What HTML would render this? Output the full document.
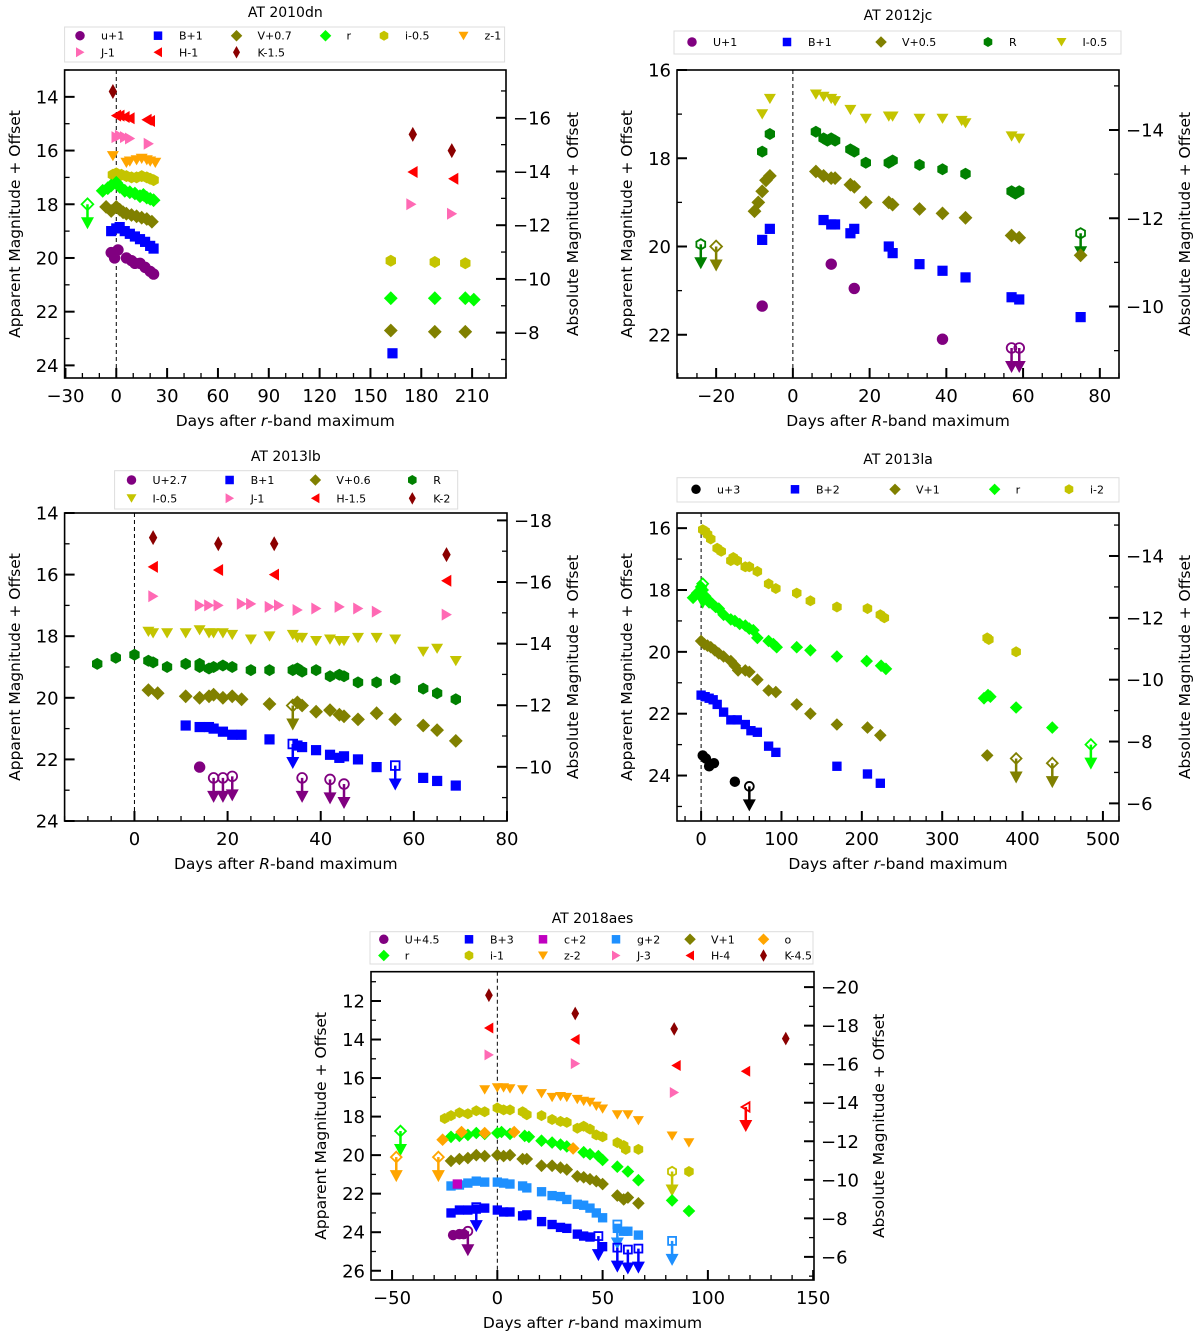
<!DOCTYPE html>
<html><head><meta charset="utf-8">
<style>
html,body{margin:0;padding:0;background:#fff;}
svg{display:block;font-family:"DejaVu Sans","Liberation Sans",sans-serif;}
</style></head>
<body>
<svg id="fig" width="1200" height="1342" viewBox="0 0 1200 1342" xmlns="http://www.w3.org/2000/svg"></svg>
<script>
// ---------- AT 2010dn ----------
const dn_u=[[-3,19.8],[-1,20.0],[1,19.7],[6,20.0],[9,20.1],[11,20.2],[14,20.2],[17,20.35],[20,20.5],[22,20.6]];
const dn_B=[[-3,19.0],[0,18.9],[2,18.85],[5,19.0],[8,19.1],[11,19.2],[14,19.3],[17,19.4],[20,19.55],[22,19.65],[163,23.55]];
const dn_V=[[-6,18.1],[-3,18.25],[0,18.1],[2,18.2],[4,18.3],[6,18.35],[9,18.4],[12,18.45],[15,18.5],[18,18.55],[21,18.65],[162,22.7],[188,22.75],[206,22.75]];
const dn_r=[[-8,17.5],[-5,17.4],[-3,17.3],[0,17.2],[2,17.35],[5,17.5],[8,17.55],[11,17.6],[14,17.7],[16,17.65],[18,17.75],[20,17.8],[22,17.85],[162,21.5],[188,21.5],[206,21.5],[211,21.55]];
const dn_r_lim=[[-17,18.0]];
const dn_i=[[-2,16.9],[0,16.85],[3,16.9],[6,16.95],[9,17.0],[12,17.0],[15,16.95],[18,17.0],[20,17.05],[22,17.1],[162,20.1],[188,20.15],[206,20.2]];
const dn_z=[[-2,16.2],[6,16.45],[8,16.4],[12,16.35],[15,16.3],[18,16.35],[20,16.4],[23,16.45]];
const dn_J=[[0,15.5],[2,15.45],[5,15.5],[8,15.55],[19,15.75],[174,18.0],[198,18.35]];
const dn_H=[[0,14.7],[2,14.7],[5,14.75],[8,14.8],[18,14.85],[20,14.9],[175,16.8],[199,17.05]];
const dn_K=[[-2,13.8],[175,15.4],[198,16.0]];
// ---------- AT 2012jc ----------
const jc_U=[[-8,21.35],[10,20.4],[16,20.95],[39,22.1]];
const jc_U_lim=[[57,22.3],[59,22.3]];
const jc_B=[[-8,19.85],[-6,19.6],[8,19.4],[10,19.5],[11,19.5],[15,19.7],[16,19.6],[25,20.0],[26,20.15],[33,20.4],[39,20.55],[45,20.7],[57,21.15],[59,21.2],[75,21.6]];
const jc_V=[[-10,19.2],[-9,19.0],[-8,18.75],[-7,18.5],[-6,18.4],[6,18.3],[8,18.4],[10,18.45],[11,18.45],[15,18.6],[16,18.65],[19,19.0],[25,19.0],[26,19.05],[33,19.15],[39,19.25],[45,19.35],[57,19.75],[59,19.8],[75,20.2]];
const jc_V_lim=[[-20,20.0]];
const jc_R=[[-8,17.85],[-6,17.45],[6,17.4],[8,17.55],[9,17.6],[10,17.55],[11,17.6],[15,17.8],[16,17.85],[19,18.1],[25,18.1],[26,18.05],[33,18.15],[39,18.25],[45,18.35],[57,18.75],[58,18.8],[59,18.75]];
const jc_R_lim=[[-24,19.95],[75,19.7]];
const jc_I=[[-8,17.0],[-6,16.65],[6,16.55],[8,16.6],[10,16.65],[11,16.7],[15,16.9],[19,17.1],[25,17.05],[26,17.05],[33,17.1],[39,17.1],[44,17.15],[45,17.2],[57,17.5],[59,17.55]];
// ---------- AT 2013lb ----------
const lb_U=[[14,22.25]];
const lb_U_lim=[[17,22.6],[19,22.6],[21,22.55],[36,22.6],[42,22.65],[45,22.8]];
const lb_B=[[11,20.9],[14,20.95],[16,20.95],[17,21.0],[19,21.1],[21,21.2],[23,21.2],[29,21.35],[35,21.55],[36,21.6],[39,21.7],[42,21.85],[44,21.95],[45,21.9],[48,22.0],[52,22.25],[62,22.6],[65,22.7],[69,22.85]];
const lb_B_lim=[[34,21.5],[56,22.2]];
const lb_V=[[3,19.75],[5,19.85],[11,19.95],[14,20.0],[16,19.95],[17,19.9],[19,20.0],[21,19.95],[23,20.05],[29,20.2],[35,20.15],[36,20.25],[39,20.45],[42,20.4],[44,20.55],[45,20.6],[48,20.7],[52,20.5],[56,20.7],[62,20.9],[65,21.05],[69,21.4]];
const lb_V_lim=[[34,20.25]];
const lb_R=[[-8,18.9],[-4,18.7],[0,18.6],[3,18.8],[4,18.85],[7,19.0],[11,18.9],[14,18.9],[14,19.0],[16,19.05],[17,19.0],[19,18.95],[21,19.0],[25,19.1],[29,19.1],[34,19.1],[35,19.05],[36,19.15],[39,19.1],[42,19.3],[44,19.25],[45,19.3],[48,19.5],[52,19.5],[56,19.4],[62,19.7],[65,19.85],[69,20.05]];
const lb_I=[[3,17.85],[4,17.9],[7,17.9],[11,17.9],[14,17.8],[16,17.9],[17,17.9],[19,17.9],[21,17.95],[25,18.1],[29,18.0],[34,17.95],[35,18.05],[36,18.05],[39,18.15],[42,18.1],[44,18.15],[45,18.15],[48,18.05],[52,18.05],[56,18.1],[62,18.5],[65,18.4],[69,18.8]];
const lb_J=[[4,16.7],[14,17.0],[16,17.0],[18,17.0],[23,16.95],[25,16.95],[29,17.05],[31,17.0],[35,17.15],[39,17.1],[44,17.05],[48,17.1],[52,17.2],[67,17.3]];
const lb_H=[[4,15.75],[18,15.85],[30,16.0],[67,16.2]];
const lb_K=[[4,14.8],[18,15.0],[30,15.0],[67,15.35]];
// ---------- AT 2013la ----------
const la_u=[[2,23.35],[6,23.45],[10,23.7],[16,23.6],[42,24.2]];
const la_u_lim=[[60,24.35]];
const la_B=[[0,21.4],[5,21.45],[10,21.5],[15,21.55],[20,21.7],[28,21.95],[37,22.2],[45,22.2],[55,22.35],[62,22.55],[70,22.6],[84,23.05],[93,23.25],[169,23.7],[207,23.95],[223,24.25]];
const la_V=[[0,19.65],[4,19.75],[8,19.8],[12,19.85],[17,19.95],[22,20.05],[28,20.15],[37,20.3],[42,20.45],[46,20.6],[55,20.6],[60,20.65],[70,20.9],[84,21.25],[93,21.3],[119,21.7],[136,22.0],[169,22.35],[207,22.45],[223,22.7],[356,23.35]];
const la_V_lim=[[392,23.45],[437,23.6]];
const la_r=[[-10,18.25],[-5,18.1],[0,17.9],[2,18.0],[5,18.2],[8,18.3],[10,18.4],[14,18.45],[18,18.55],[22,18.6],[28,18.8],[37,18.95],[42,19.0],[48,19.1],[55,19.15],[60,19.25],[65,19.3],[70,19.55],[84,19.65],[90,19.75],[94,19.85],[119,19.85],[136,19.95],[169,20.15],[206,20.3],[224,20.45],[230,20.55],[352,21.5],[357,21.4],[360,21.45],[392,21.8],[437,22.45]];
const la_r_lim=[[2,17.8],[485,23.0]];
const la_i=[[2,16.05],[5,16.1],[8,16.2],[12,16.35],[20,16.65],[25,16.75],[37,17.05],[40,16.95],[45,17.05],[55,17.25],[60,17.25],[70,17.4],[84,17.8],[93,17.95],[119,18.1],[136,18.35],[169,18.55],[207,18.6],[223,18.8],[228,18.9],[356,19.55],[358,19.6],[392,20.0]];
// ---------- AT 2018aes ----------
const es_U=[[-21,24.15],[-18,24.1],[-16,24.1]];
const es_U_lim=[[-14,23.95]];
const es_B=[[-22,23.0],[-18,22.85],[-14,22.85],[-10,22.8],[-6,22.75],[0,22.85],[3,22.95],[6,22.95],[12,23.15],[14,23.1],[21,23.45],[26,23.6],[30,23.75],[33,23.8],[38,24.1],[41,24.2],[44,24.25],[50,24.75]];
const es_B_lim=[[-10,22.7],[48,24.2],[57,24.8],[62,24.9],[67,24.85]];
const es_c=[[-19,21.5]];
const es_g=[[-22,21.6],[-18,21.55],[-14,21.45],[-10,21.35],[-6,21.4],[0,21.4],[3,21.45],[6,21.5],[12,21.6],[14,21.7],[21,21.9],[26,22.1],[30,22.15],[33,22.3],[38,22.55],[41,22.6],[44,22.75],[47,23.0],[50,23.25],[57,23.8],[60,23.95],[62,23.95],[67,24.15]];
const es_g_lim=[[57,23.6],[83,24.45]];
const es_V=[[-22,20.3],[-18,20.2],[-14,20.15],[-10,20.0],[-6,20.05],[0,20.0],[3,20.05],[6,20.0],[12,20.2],[14,20.2],[21,20.55],[26,20.55],[30,20.65],[33,20.75],[38,21.1],[41,21.15],[44,21.25],[47,21.35],[50,21.5],[57,22.1],[60,22.3],[62,22.2],[67,22.5]];
const es_o=[[-26,19.2],[-17,18.8],[-6,18.85],[8,18.8],[36,19.65]];
const es_o_lim=[[-48,20.1],[-28,20.1]];
const es_r=[[-22,19.05],[-18,19.0],[-14,18.95],[-10,18.85],[-6,18.9],[0,18.85],[2,18.8],[6,18.9],[13,19.0],[15,19.05],[21,19.25],[26,19.35],[30,19.45],[33,19.55],[41,19.85],[44,19.95],[48,20.05],[50,20.25],[57,20.6],[62,20.85],[67,21.3],[83,22.35],[91,22.9]];
const es_r_lim=[[-46,18.75]];
const es_i=[[-25,18.1],[-22,17.95],[-18,17.8],[-14,17.85],[-10,17.7],[-6,17.75],[0,17.55],[3,17.65],[6,17.65],[12,17.75],[14,17.9],[21,17.95],[26,18.15],[30,18.25],[33,18.3],[38,18.6],[41,18.5],[44,18.65],[47,18.95],[50,19.05],[57,19.35],[60,19.5],[61,19.7],[67,19.7],[91,20.85]];
const es_i_lim=[[83,20.85]];
const es_z=[[-6,16.6],[0,16.5],[3,16.5],[6,16.55],[12,16.6],[21,16.8],[26,17.0],[30,16.95],[33,17.0],[38,17.1],[41,17.2],[44,17.25],[47,17.45],[50,17.6],[57,17.9],[62,17.9],[67,18.2],[83,19.0],[91,19.35]];
const es_J=[[-4,14.8],[37,15.25],[84,16.75]];
const es_H=[[-4,13.4],[37,14.0],[85,15.35],[118,15.65]];
const es_H_lim=[[118,17.5]];
const es_K=[[-4,11.7],[37,12.65],[84,13.45],[137,13.95]];

const C={u:'#800080',B:'#0000ff',V:'#808000',r:'#00ff00',i:'#c4c400',z:'#ffa500',J:'#ff69b4',H:'#ff0000',K:'#8b0000',R:'#008000',c:'#c000c0',g:'#1e90ff',o:'#ffa500',k:'#000000'};
const NS='http://www.w3.org/2000/svg';
const svg=document.getElementById('fig');
function mk(tag,attrs,parent){const e=document.createElementNS(NS,tag);for(const k in attrs)e.setAttribute(k,attrs[k]);(parent||svg).appendChild(e);return e;}
function marker(g,shape,cx,cy,s,col,open){
  let e;const fill=open?'none':col;const sw=open?1.8:0;
  const h=s/2;
  if(shape==='o'){e=mk('circle',{cx:cx,cy:cy,r:h*0.95,fill:fill,stroke:col,'stroke-width':sw},g);}
  else if(shape==='s'){const a=s*0.85;e=mk('rect',{x:cx-a/2,y:cy-a/2,width:a,height:a,fill:fill,stroke:col,'stroke-width':sw},g);}
  else{let p;
    if(shape==='D'){const a=h*1.15;p=[[0,-a],[a,0],[0,a],[-a,0]];}
    else if(shape==='d'){p=[[0,-h*1.25],[h*0.7,0],[0,h*1.25],[-h*0.7,0]];}
    else if(shape==='h'){p=[];for(let k=0;k<6;k++){const t=Math.PI/3*k-Math.PI/2;p.push([h*Math.cos(t),h*Math.sin(t)]);}}
    else if(shape==='v'){p=[[-h,-h*0.8],[h,-h*0.8],[0,h*0.9]];}
    else if(shape==='>'){p=[[-h*0.8,-h],[-h*0.8,h],[h*0.9,0]];}
    else if(shape==='<'){p=[[h*0.8,-h],[h*0.8,h],[-h*0.9,0]];}
    e=mk('polygon',{points:p.map(q=>(cx+q[0]).toFixed(1)+','+(cy+q[1]).toFixed(1)).join(' '),fill:fill,stroke:col,'stroke-width':sw},g);}
  return e;
}
function panel(P){
  const g=mk('g',{});
  
  
  const X=d=>P.x0+(d-P.xd[0])/(P.xd[1]-P.xd[0])*(P.x1-P.x0);
  const Y=m=>P.y0+(m-P.yd[0])/(P.yd[1]-P.yd[0])*(P.y1-P.y0);
  const t=mk('text',{x:(P.x0+P.x1)/2,y:P.ty,'text-anchor':'middle','font-size':14},g);t.textContent=P.title;
  
  const lg=mk('g',{},g);
  
  mk('rect',{x:P.lb[0],y:P.lb[1],width:P.lb[2]-P.lb[0],height:P.lb[3]-P.lb[1],fill:'#fff',stroke:'#dcdcdc','stroke-width':1},lg);
  P.leg.forEach((it,k)=>{const col=k%P.lcx.length,row=Math.floor(k/P.lcx.length);
    const ey=P.lry[row];
    const ent=mk('g',{},lg);
    
    marker(ent,it[1],P.lcx[col],ey,10,it[2],false);
    const tt=mk('text',{x:P.lcx[col]+21,y:ey+4,'font-size':11},ent);tt.textContent=it[0];});
  mk('line',{x1:X(0),x2:X(0),y1:P.y0,y2:P.y1,stroke:'#000','stroke-width':1,'stroke-dasharray':'4,3'},g);
  P.series.forEach(s=>{
    const sg=mk('g',{},g);
    
    s.d.forEach(p=>{const e=marker(sg,s.m,X(p[0]),Y(p[1]),P.ms,s.c,false);
      });
    (s.l||[]).forEach(p=>{const cx=X(p[0]),cy=Y(p[1]);
      const e=marker(sg,s.m,cx,cy,P.ms*0.85,s.c,true);
      
      mk('line',{x1:cx,x2:cx,y1:cy,y2:cy+16,stroke:s.c,'stroke-width':2.5},sg);
      mk('polygon',{points:(cx-6.5)+','+(cy+13)+' '+(cx+6.5)+','+(cy+13)+' '+cx+','+(cy+25),fill:s.c},sg);});
  });
  mk('rect',{x:P.x0,y:P.y0,width:P.x1-P.x0,height:P.y1-P.y0,fill:'none',stroke:'#000','stroke-width':1.6},g);
  for(let v=P.xmin[0];v<=P.xd[1]+1e-9;v+=P.xmin[1]){const px=X(v);if(px<P.x0-0.5)continue;
    const maj=Math.abs(((v-P.xmaj[0])/P.xmaj[1])-Math.round((v-P.xmaj[0])/P.xmaj[1]))<1e-6;
    mk('line',{x1:px,x2:px,y1:P.y1,y2:P.y1-(maj?10:5),stroke:'#000','stroke-width':maj?2:1.3},g);}
  const xlabs=[];for(let v=P.xmaj[0];v<=P.xd[1]+1e-9;v+=P.xmaj[1])xlabs.push(v);
  xlabs.forEach(v=>{const tx=mk('text',{x:X(v),y:P.y1+24,'text-anchor':'middle','font-size':18},g);tx.textContent=(v<0?'\u2212'+(-v):v);
    });
  for(let m=Math.ceil(P.yd[0]);m<=P.yd[1];m++){const py=Y(m);const maj=(m-P.ymaj0)%2===0;
    mk('line',{x1:P.x0,x2:P.x0+(maj?10:5),y1:py,y2:py,stroke:'#000','stroke-width':maj?2:1.3},g);
    if(maj){const tx=mk('text',{x:P.x0-6,y:py+6.5,'text-anchor':'end','font-size':18},g);tx.textContent=m;
      }}
  const a0=P.yd[0]-P.mu,a1=P.yd[1]-P.mu;
  for(let a=Math.ceil(a0);a<=a1;a++){const py=Y(a+P.mu);const maj=a%2===0;
    mk('line',{x1:P.x1,x2:P.x1-(maj?10:5),y1:py,y2:py,stroke:'#000','stroke-width':maj?2:1.3},g);
    if(maj){const tx=mk('text',{x:P.x1+7,y:py+6.5,'text-anchor':'start','font-size':18},g);tx.textContent=(a<0?'\u2212'+(-a):a);
      }}
  const xl=mk('text',{x:(P.x0+P.x1)/2,y:P.y1+48,'text-anchor':'middle','font-size':15.5},g);
  
  xl.appendChild(document.createTextNode('Days after '));
  const it=mk('tspan',{'font-style':'italic'},xl);it.textContent=P.band;
  xl.appendChild(document.createTextNode('-band maximum'));
  const cy=(P.y0+P.y1)/2;
  const yl=mk('text',{x:0,y:0,'text-anchor':'middle','font-size':15.5,transform:'translate('+(P.ylx)+','+cy+') rotate(-90)'},g);
  yl.textContent='Apparent Magnitude + Offset';
  
  const yr=mk('text',{x:0,y:0,'text-anchor':'middle','font-size':15.5,transform:'translate('+(P.yrx)+','+cy+') rotate(-90)'},g);
  yr.textContent='Absolute Magnitude + Offset';
  
}
panel({name:'panel-at2010dn',title:'AT 2010dn',ty:17,x0:64.6,x1:506,y0:70,y1:378,xd:[-30.5,230],yd:[13.0,24.47],mu:30.78,
  xmaj:[-30,30],xmin:[-30,10],ymaj0:14,band:'r',ylx:20,yrx:578,ms:12,
  lb:[64.6,27,504.6,62],lcx:[80,158,236.5,325.5,384,463.5],lry:[35.7,52.3],
  leg:[['u+1','o',C.u],['B+1','s',C.B],['V+0.7','D',C.V],['r','D',C.r],['i-0.5','h',C.i],['z-1','v',C.z],['J-1','>',C.J],['H-1','<',C.H],['K-1.5','d',C.K]],
  series:[{n:'K',m:'d',c:C.K,d:dn_K},{n:'H',m:'<',c:C.H,d:dn_H},{n:'J',m:'>',c:C.J,d:dn_J},{n:'z',m:'v',c:C.z,d:dn_z},{n:'i',m:'h',c:C.i,d:dn_i},
    {n:'r',m:'D',c:C.r,d:dn_r,l:dn_r_lim},{n:'V',m:'D',c:C.V,d:dn_V},{n:'B',m:'s',c:C.B,d:dn_B},{n:'u',m:'o',c:C.u,d:dn_u}]});
panel({name:'panel-at2012jc',title:'AT 2012jc',ty:20,x0:677,x1:1119,y0:70,y1:378,xd:[-30.2,85],yd:[16,22.98],mu:31.36,
  xmaj:[-20,20],xmin:[-30,5],ymaj0:16,band:'R',ylx:632,yrx:1190,ms:12,
  lb:[674,31,1121,54],lcx:[692,787,881,988,1061.5],lry:[42],
  leg:[['U+1','o',C.u],['B+1','s',C.B],['V+0.5','D',C.V],['R','h',C.R],['I-0.5','v',C.i]],
  series:[{n:'I',m:'v',c:C.i,d:jc_I},{n:'R',m:'h',c:C.R,d:jc_R,l:jc_R_lim},{n:'V',m:'D',c:C.V,d:jc_V,l:jc_V_lim},{n:'B',m:'s',c:C.B,d:jc_B},{n:'U',m:'o',c:C.u,d:jc_U,l:jc_U_lim}]});
panel({name:'panel-at2013lb',title:'AT 2013lb',ty:461,x0:64.6,x1:507,y0:513,y1:821,xd:[-15,80],yd:[14,24],mu:32.24,
  xmaj:[0,20],xmin:[-15,5],ymaj0:14,band:'R',ylx:20,yrx:578,ms:12,
  lb:[114.6,470.7,457.7,509],lcx:[131.5,229.6,315.4,412.3],lry:[480,498.3],
  leg:[['U+2.7','o',C.u],['B+1','s',C.B],['V+0.6','D',C.V],['R','h',C.R],['I-0.5','v',C.i],['J-1','>',C.J],['H-1.5','<',C.H],['K-2','d',C.K]],
  series:[{n:'K',m:'d',c:C.K,d:lb_K},{n:'H',m:'<',c:C.H,d:lb_H},{n:'J',m:'>',c:C.J,d:lb_J},{n:'I',m:'v',c:C.i,d:lb_I},{n:'R',m:'h',c:C.R,d:lb_R},
    {n:'V',m:'D',c:C.V,d:lb_V,l:lb_V_lim},{n:'B',m:'s',c:C.B,d:lb_B,l:lb_B_lim},{n:'U',m:'o',c:C.u,d:lb_U,l:lb_U_lim}]});
panel({name:'panel-at2013la',title:'AT 2013la',ty:464,x0:677,x1:1119,y0:513,y1:821,xd:[-30,520],yd:[15.51,25.47],mu:30.9,
  xmaj:[0,100],xmin:[-20,20],ymaj0:16,band:'r',ylx:632,yrx:1190,ms:11,
  lb:[677,477.7,1119,502],lcx:[696,795,895,994.6,1069],lry:[489.3],
  leg:[['u+3','o',C.k],['B+2','s',C.B],['V+1','D',C.V],['r','D',C.r],['i-2','h',C.i]],
  series:[{n:'i',m:'h',c:C.i,d:la_i},{n:'r',m:'D',c:C.r,d:la_r,l:la_r_lim},{n:'V',m:'D',c:C.V,d:la_V,l:la_V_lim},{n:'B',m:'s',c:C.B,d:la_B},{n:'u',m:'o',c:C.k,d:la_u,l:la_u_lim}]});
panel({name:'panel-at2018aes',title:'AT 2018aes',ty:923,x0:371,x1:814,y0:971.7,y1:1280,xd:[-60,150.4],yd:[10.48,26.48],mu:31.28,
  xmaj:[-50,50],xmin:[-50,10],ymaj0:12,band:'r',ylx:326,yrx:884,ms:11,
  lb:[370,931.7,813,964],lcx:[383.8,469,543,616,690,763.5],lry:[939.3,955.5],
  leg:[['U+4.5','o',C.u],['B+3','s',C.B],['c+2','s',C.c],['g+2','s',C.g],['V+1','D',C.V],['o','D',C.o],['r','D',C.r],['i-1','h',C.i],['z-2','v',C.z],['J-3','>',C.J],['H-4','<',C.H],['K-4.5','d',C.K]],
  series:[{n:'K',m:'d',c:C.K,d:es_K},{n:'H',m:'<',c:C.H,d:es_H,l:es_H_lim},{n:'J',m:'>',c:C.J,d:es_J},{n:'z',m:'v',c:C.z,d:es_z},{n:'i',m:'h',c:C.i,d:es_i,l:es_i_lim},
    {n:'r',m:'D',c:C.r,d:es_r,l:es_r_lim},{n:'o',m:'D',c:C.o,d:es_o,l:es_o_lim},{n:'V',m:'D',c:C.V,d:es_V},{n:'g',m:'s',c:C.g,d:es_g,l:es_g_lim},{n:'c',m:'s',c:C.c,d:es_c},
    {n:'B',m:'s',c:C.B,d:es_B,l:es_B_lim},{n:'U',m:'o',c:C.u,d:es_U,l:es_U_lim}]});
</script>
</body></html>
